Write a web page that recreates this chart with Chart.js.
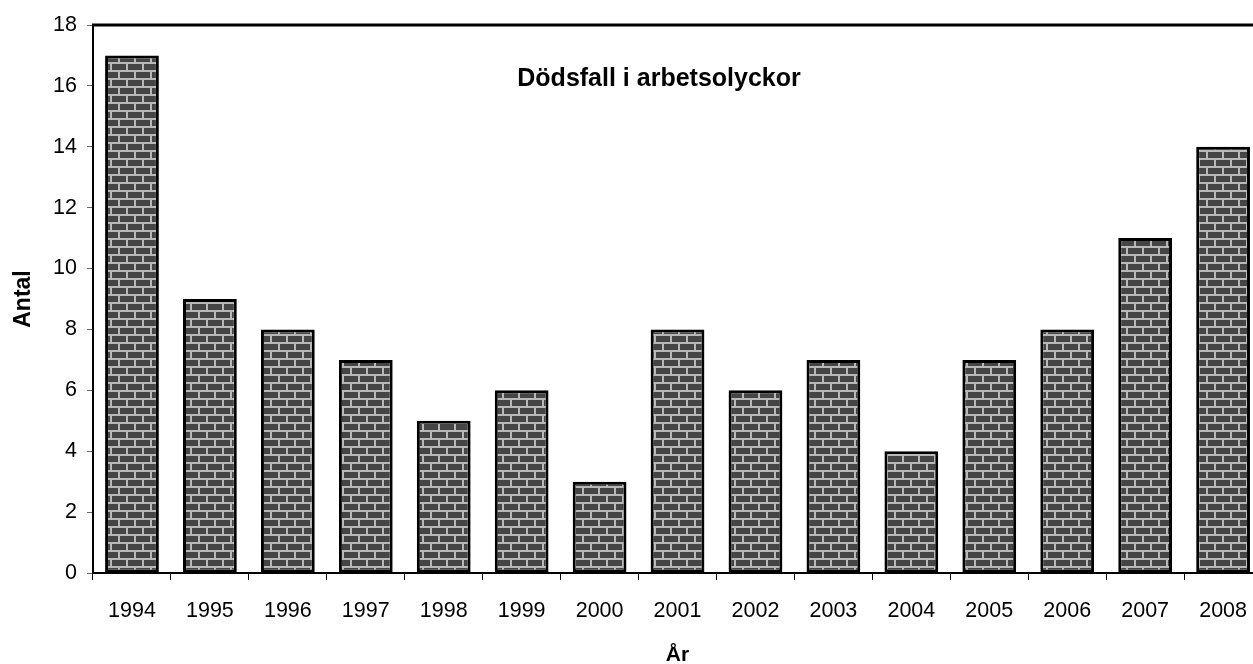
<!doctype html>
<html>

<head>
    <meta charset="utf-8" />
    <title>Dödsfall i arbetsolyckor</title>
    <script src="https://cdn.jsdelivr.net/npm/chart.js@4.4.1/dist/chart.umd.min.js"></script>
    <style>
        html, body { margin: 0; padding: 0; background: #fff; overflow: hidden; }
        /* the plot runs a little past the right edge of the window, as in the original */
        #wrap { width: 1265px; height: 664px; }
    </style>
</head>

<body>
    <div id="wrap"><canvas id="myChart"></canvas></div>
    <script>
        var years = ["1994", "1995", "1996", "1997", "1998", "1999", "2000", "2001",
            "2002", "2003", "2004", "2005", "2006", "2007", "2008"];
        var deaths = [17, 9, 8, 7, 5, 6, 3, 8, 6, 7, 4, 7, 8, 11, 14];
        var yTicks = [0, 2, 4, 6, 8, 10, 12, 14, 16, 18];

        var chartTitle = "Dödsfall i arbetsolyckor";
        var fontFamily = "'Liberation Sans', Arial, sans-serif";

        // brick fill like the old excel pattern
        function brickPattern() {
            var tile = document.createElement("canvas");
            tile.width = 16;
            tile.height = 16;
            var c = tile.getContext("2d");
            c.fillStyle = "#b8b8b8";
            c.fillRect(0, 0, 16, 16);
            c.fillStyle = "#454545";
            c.fillRect(0, 0, 14, 6);
            c.fillRect(8, 8, 14, 6);
            c.fillRect(-8, 8, 14, 6);
            return c.createPattern(tile, "repeat");
        }

        var frameTop = {
            id: "frameTop",
            afterDraw: function (chart) {
                var a = chart.chartArea, ctx = chart.ctx;
                ctx.save();
                ctx.strokeStyle = "#000";
                ctx.lineWidth = 3;
                ctx.beginPath();
                ctx.moveTo(a.left - 1, a.top);
                ctx.lineTo(chart.width, a.top);
                ctx.stroke();

                ctx.fillStyle = "#000";
                ctx.font = "bold 25px " + fontFamily;
                ctx.textAlign = "center";
                ctx.textBaseline = "middle";
                ctx.fillText(chartTitle, 659, 79);
                ctx.restore();
            }
        };

        var chart = new Chart(document.getElementById("myChart"), {
            type: "bar",
            data: {
                labels: years,
                datasets: [{
                    label: "Antal",
                    data: deaths,
                    backgroundColor: brickPattern(),
                    borderColor: "#000",
                    borderWidth: 3,
                    borderSkipped: false,
                    categoryPercentage: 1,
                    barPercentage: 0.69
                }]
            },
            options: {
                responsive: true,
                maintainAspectRatio: false,
                animation: false,
                layout: { padding: { top: 25, right: 0, left: 0, bottom: 0 } },
                plugins: {
                    legend: { display: false },
                    tooltip: { enabled: false }
                },
                scales: {
                    x: {
                        grid: { drawOnChartArea: false, drawTicks: true, tickLength: 7, color: "#000", offset: true },
                        border: { color: "#000", width: 2 },
                        ticks: { color: "#000", padding: 18, font: { family: fontFamily, size: 21.5 } },
                        title: {
                            display: true, text: "År", color: "#000",
                            font: { family: fontFamily, size: 21, weight: "bold", lineHeight: 0.8 },
                            padding: { top: 0, bottom: 0 }
                        },
                        afterFit: function (s) { s.height = 91; }
                    },
                    y: {
                        min: 0,
                        max: 18,
                        afterBuildTicks: function (s) { s.ticks = yTicks.map(function (v) { return { value: v }; }); },
                        grid: { drawOnChartArea: false, drawTicks: true, tickLength: 6, color: "#666" },
                        border: { color: "#000", width: 2 },
                        ticks: { color: "#000", padding: 10, font: { family: fontFamily, size: 21.5 } },
                        title: {
                            display: true, text: "Antal", color: "#000",
                            font: { family: fontFamily, size: 23, weight: "bold" },
                            padding: { top: 10, bottom: 0 }
                        },
                        afterFit: function (s) { s.width = 93; }
                    }
                }
            },
            plugins: [frameTop]
        });
    </script>
</body>

</html>
